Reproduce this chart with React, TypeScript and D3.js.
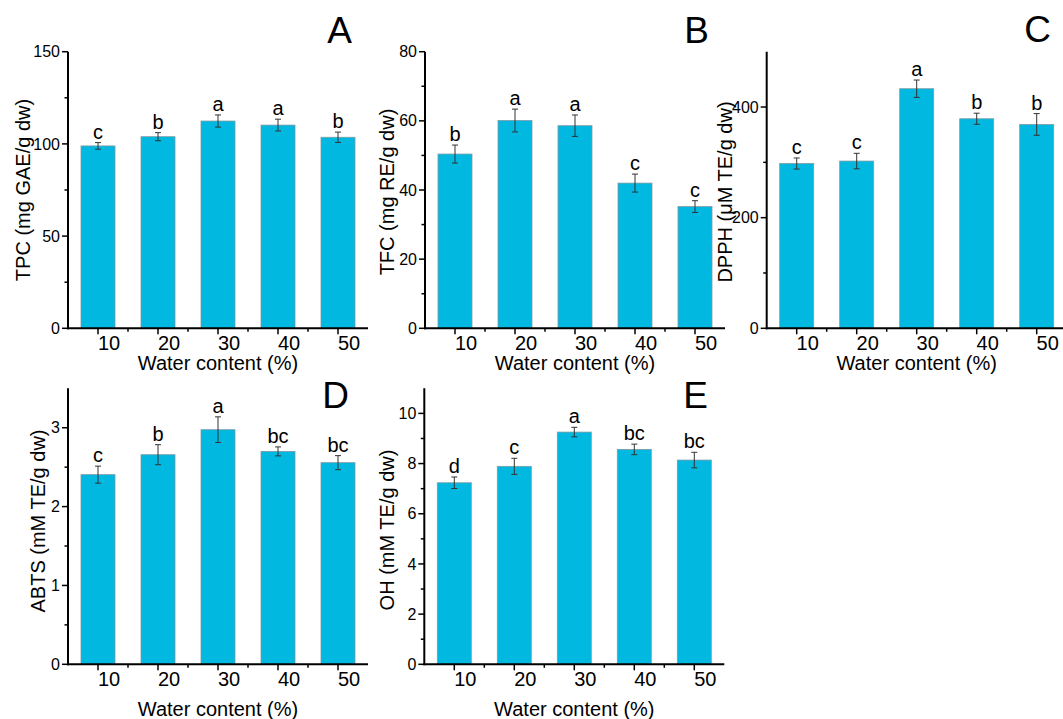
import React from "react";
import * as d3 from "d3";

const categories = [10, 20, 30, 40, 50];

const tpcValues = [98.9, 103.9, 112.4, 110.2, 103.6];
const tpcErrors = [1.8, 2.2, 3.3, 3.2, 2.8];
const tpcLetters = ["c", "b", "a", "a", "b"];

const tfcValues = [50.4, 60.1, 58.6, 42.0, 35.2];
const tfcErrors = [2.6, 3.3, 3.1, 2.6, 1.7];
const tfcLetters = ["b", "a", "a", "c", "c"];

const dpphValues = [297.9, 302.3, 433.1, 378.8, 368.5];
const dpphErrors = [10, 14, 15.7, 10, 19.6];
const dpphLetters = ["c", "c", "a", "b", "b"];

const abtsValues = [2.405, 2.658, 2.975, 2.70, 2.557];
const abtsErrors = [0.108, 0.127, 0.163, 0.057, 0.089];
const abtsLetters = ["c", "b", "a", "bc", "bc"];

const ohValues = [7.235, 7.89, 9.255, 8.565, 8.14];
const ohErrors = [0.23, 0.32, 0.19, 0.21, 0.31];
const ohLetters = ["d", "c", "a", "bc", "bc"];

const xMajorTicks = [10, 20, 30, 40, 50];
const xMinorTicks = [15, 25, 35, 45];

type Panel = {
  tag: string;
  values: number[];
  errors: number[];
  letters: string[];
  yMax: number;
  yMajor: number[];
  yMinor: number[];
  yLabel: string;
  ax: number;
  top: number;
  bottom: number;
  yLabelX: number;
  yLabelY: number;
  xTitleDy: number;
  tagX: number;
  tagY: number;
};

const panels: Panel[] = [
  {
    tag: "A", values: tpcValues, errors: tpcErrors, letters: tpcLetters,
    yMax: 150, yMajor: [0, 50, 100, 150], yMinor: [25, 75, 125],
    yLabel: "TPC (mg GAE/g dw)", ax: 68, top: 51.7, bottom: 328.3,
    yLabelX: 23, yLabelY: 190, xTitleDy: 42, tagX: 352, tagY: 43,
  },
  {
    tag: "B", values: tfcValues, errors: tfcErrors, letters: tfcLetters,
    yMax: 80, yMajor: [0, 20, 40, 60, 80], yMinor: [10, 30, 50, 70],
    yLabel: "TFC (mg RE/g dw)", ax: 425, top: 51.7, bottom: 328.3,
    yLabelX: 387, yLabelY: 192, xTitleDy: 42, tagX: 709, tagY: 43,
  },
  {
    tag: "C", values: dpphValues, errors: dpphErrors, letters: dpphLetters,
    yMax: 500, yMajor: [0, 200, 400], yMinor: [100, 300],
    yLabel: "DPPH (\u03BCM TE/g dw)", ax: 766.7, top: 51.7, bottom: 328.3,
    yLabelX: 725, yLabelY: 192, xTitleDy: 42, tagX: 1051, tagY: 42,
  },
  {
    tag: "D", values: abtsValues, errors: abtsErrors, letters: abtsLetters,
    yMax: 3.5, yMajor: [0, 1, 2, 3], yMinor: [0.5, 1.5, 2.5],
    yLabel: "ABTS (mM TE/g dw)", ax: 68, top: 388.3, bottom: 664.3,
    yLabelX: 38, yLabelY: 521, xTitleDy: 52, tagX: 349, tagY: 408,
  },
  {
    tag: "E", values: ohValues, errors: ohErrors, letters: ohLetters,
    yMax: 11, yMajor: [0, 2, 4, 6, 8, 10], yMinor: [1, 3, 5, 7, 9],
    yLabel: "OH (mM TE/g dw)", ax: 424.3, top: 388.3, bottom: 664.3,
    yLabelX: 387, yLabelY: 530, xTitleDy: 52, tagX: 708, tagY: 408,
  },
];

const FONT = "Liberation Sans, Arial, Helvetica, sans-serif";
const BAR_FILL = "#00B8E0";
const BAR_STROKE = "#7f9aa3";
const BAR_W = 34;

function PanelView({ p }: { p: Panel }) {
  const x = d3.scaleLinear().domain([5, 55]).range([p.ax, p.ax + 300]);
  const y = d3.scaleLinear().domain([0, p.yMax]).range([p.bottom, p.top]);
  const fmt = (v: number) => String(v);
  return (
    <g>
      {/* bars */}
      {categories.map((c, i) => (
        <rect
          key={"b" + i}
          x={x(c) - BAR_W / 2}
          y={y(p.values[i])}
          width={BAR_W}
          height={y(0) - y(p.values[i])}
          fill={BAR_FILL}
          stroke={BAR_STROKE}
          strokeWidth={0.8}
        />
      ))}
      {/* error bars */}
      {categories.map((c, i) => {
        const hi = y(p.values[i] + p.errors[i]);
        const lo = y(p.values[i] - p.errors[i]);
        const cx = x(c);
        return (
          <g key={"e" + i} stroke="#333" strokeWidth={1}>
            <line x1={cx} x2={cx} y1={hi} y2={lo} />
            <line x1={cx - 3} x2={cx + 3} y1={hi} y2={hi} />
            <line x1={cx - 3} x2={cx + 3} y1={lo} y2={lo} />
          </g>
        );
      })}
      {/* letters */}
      {categories.map((c, i) => (
        <text
          key={"l" + i}
          x={x(c)}
          y={y(p.values[i] + p.errors[i]) - 4}
          textAnchor="middle"
          fontSize={20}
          fontFamily={FONT}
          fill="#000"
        >
          {p.letters[i]}
        </text>
      ))}
      {/* y axis */}
      <line x1={p.ax} x2={p.ax} y1={p.top} y2={p.bottom + 1} stroke="#000" strokeWidth={2} />
      {p.yMajor.map((t) => (
        <g key={"ym" + t}>
          <line x1={p.ax - 6} x2={p.ax} y1={y(t)} y2={y(t)} stroke="#000" strokeWidth={1.5} />
          <text
            x={p.ax - 8}
            y={y(t)}
            dy="0.35em"
            textAnchor="end"
            fontSize={16}
            fontFamily={FONT}
            fill="#000"
          >
            {fmt(t)}
          </text>
        </g>
      ))}
      {p.yMinor.map((t) => (
        <line key={"yn" + t} x1={p.ax - 3.5} x2={p.ax} y1={y(t)} y2={y(t)} stroke="#000" strokeWidth={1.5} />
      ))}
      {/* x axis */}
      <line x1={p.ax - 1} x2={p.ax + 300} y1={p.bottom} y2={p.bottom} stroke="#000" strokeWidth={2} />
      {xMajorTicks.map((t) => (
        <g key={"xm" + t}>
          <line x1={x(t)} x2={x(t)} y1={p.bottom} y2={p.bottom + 6} stroke="#000" strokeWidth={1.5} />
          <text
            x={x(t) + 11}
            y={p.bottom + 22}
            textAnchor="middle"
            fontSize={20}
            fontFamily={FONT}
            fill="#000"
          >
            {t}
          </text>
        </g>
      ))}
      {xMinorTicks.map((t) => (
        <line key={"xn" + t} x1={x(t)} x2={x(t)} y1={p.bottom} y2={p.bottom + 3.5} stroke="#000" strokeWidth={1.5} />
      ))}
      <text
        x={p.ax + 150}
        y={p.bottom + p.xTitleDy}
        textAnchor="middle"
        fontSize={20}
        fontFamily={FONT}
        fill="#000"
      >
        Water content (%)
      </text>
      <text
        transform={`translate(${p.yLabelX},${p.yLabelY}) rotate(-90)`}
        textAnchor="middle"
        dy="0.35em"
        fontSize={20}
        fontFamily={FONT}
        fill="#000"
      >
        {p.yLabel}
      </text>
      <text
        x={p.tagX}
        y={p.tagY}
        textAnchor="end"
        fontSize={37}
        fontFamily={FONT}
        fill="#000"
      >
        {p.tag}
      </text>
    </g>
  );
}

export default function App() {
  return (
    <svg
      width={1063}
      height={719}
      style={{ position: "absolute", left: 0, top: 0, background: "#fff" }}
    >
      <rect x={0} y={0} width={1063} height={719} fill="#fff" />
      {panels.map((p) => (
        <PanelView key={p.tag} p={p} />
      ))}
    </svg>
  );
}
